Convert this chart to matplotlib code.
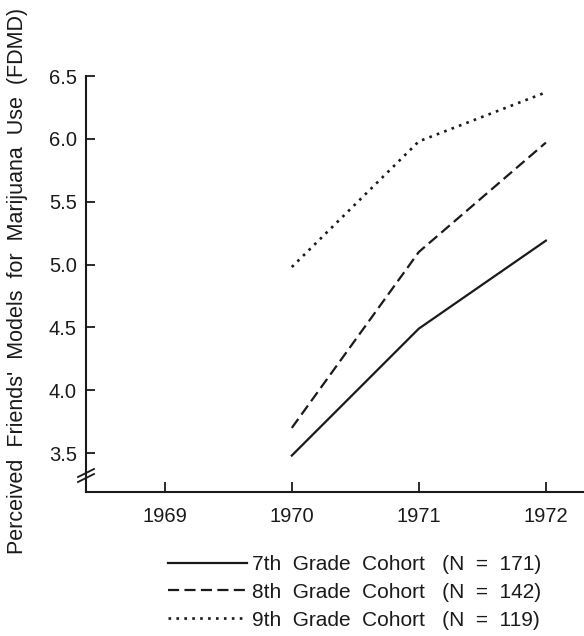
import matplotlib
matplotlib.use("Agg")
import matplotlib.pyplot as plt
from matplotlib.lines import Line2D

# data
years = [1970, 1971, 1972]
grade7 = [3.48, 4.49, 5.19]
grade8 = [3.70, 5.10, 5.97]
grade9 = [4.98, 5.98, 6.37]
labels = ["7th  Grade  Cohort   (N  =  171)",
          "8th  Grade  Cohort   (N  =  142)",
          "9th  Grade  Cohort   (N  =  119)"]
xticks = [1969, 1970, 1971, 1972]
yticks = [3.5, 4.0, 4.5, 5.0, 5.5, 6.0, 6.5]

plt.rcParams['font.family'] = ['Liberation Sans', 'DejaVu Sans']
ink = '#1a1a1a'

W, H = 584, 636
fig = plt.figure(figsize=(W / 100, H / 100), dpi=100)
ax = fig.add_axes([86 / W, (H - 492) / H, (W - 86) / W, (492 - 76) / H])

lw = 1.6
ax.plot(years, grade7, color=ink, lw=lw, linestyle='-', label=labels[0])
ax.plot(years, grade8, color=ink, lw=lw, linestyle=(0, (5.0, 2.4)), label=labels[1])
ax.plot(years, grade9, color=ink, lw=1.9, linestyle=(0, (1.0, 2.0)), label=labels[2])

ax.set_xlim(1968.38, 1972.3)
ax.set_ylim(3.19, 6.5)
ax.set_xticks(xticks)
ax.set_xticklabels([str(y) for y in xticks])
ax.set_yticks(yticks)
ax.set_yticklabels([f"{v:.1f}" for v in yticks])

for s in ['top', 'right']:
    ax.spines[s].set_visible(False)
for s in ['left', 'bottom']:
    ax.spines[s].set_linewidth(1.5)
    ax.spines[s].set_color(ink)
ax.spines['left'].set_bounds(3.19, 6.5)

ax.tick_params(axis='y', direction='in', length=6.5, width=1.3, pad=6.5,
               labelsize=14.5, colors=ink)
ax.tick_params(axis='x', direction='in', length=7.5, width=1.3, pad=10.5,
               labelsize=14.5, colors=ink)

# axis break marks on the left spine
tr = ax.transAxes
dx, dy = 8 / (W - 86), 4 / (492 - 76)
for yc in [(492 - 473) / (492 - 76), (492 - 478) / (492 - 76)]:
    ax.add_line(Line2D([-dx, dx], [yc - dy, yc + dy], transform=tr,
                       color=ink, lw=1.3, clip_on=False))

fig.text(18 / W, (H - 281) / H,
         "Perceived  Friends'  Models  for  Marijuana  Use  (FDMD)",
         rotation=90, ha='center', va='center', fontsize=15.5, color=ink)

leg = ax.legend(loc='upper left', bbox_to_anchor=(168 / W, (H - 555) / H),
                bbox_transform=fig.transFigure, frameon=False, fontsize=15,
                handlelength=3.8, handletextpad=0.25, labelspacing=0.42,
                borderpad=0, borderaxespad=0)
for t in leg.get_texts():
    t.set_color(ink)

fig.savefig("out.png", dpi=100)
